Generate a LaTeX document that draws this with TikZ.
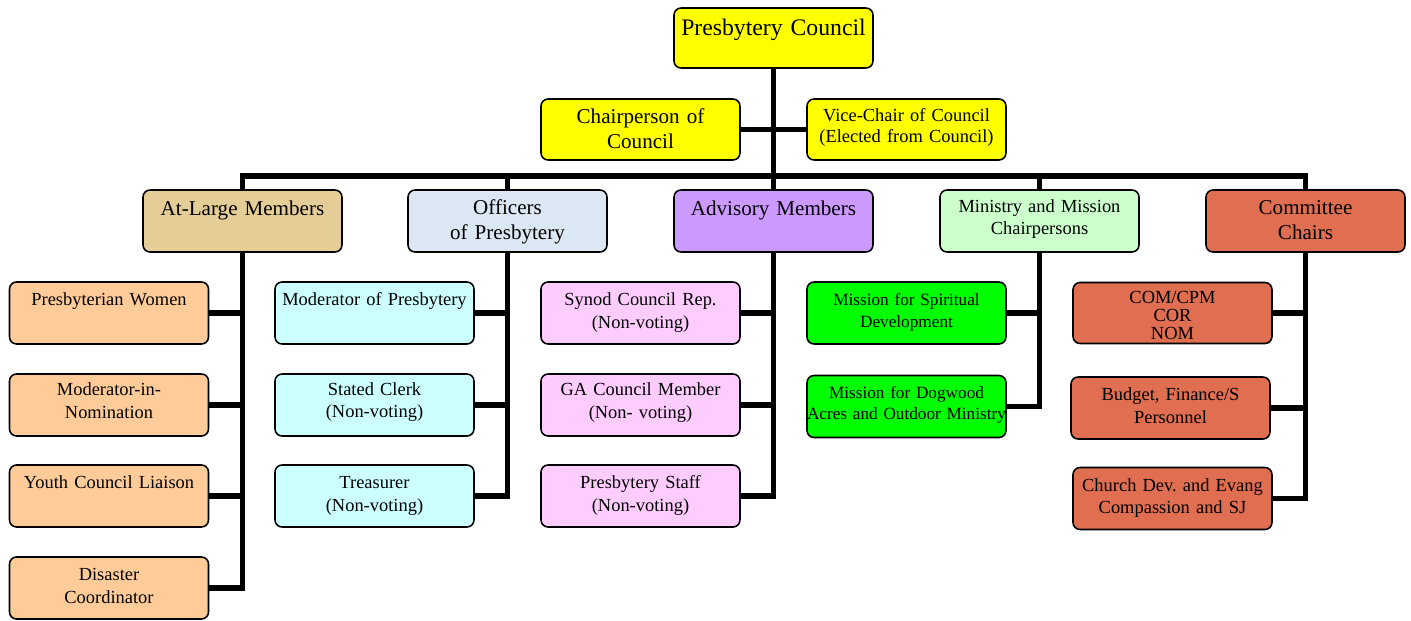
\documentclass[tikz,border=0pt]{standalone}
\usepackage{fontspec}
\setmainfont{Liberation Serif}
\usepackage{tikz}
\usetikzlibrary{positioning}
\frenchspacing
\definecolor{council}{RGB}{255,255,0}
\definecolor{tan}{RGB}{228,205,150}
\definecolor{officer}{RGB}{220,231,244}
\definecolor{advisory}{RGB}{204,153,255}
\definecolor{ministry}{RGB}{204,255,204}
\definecolor{committee}{RGB}{224,110,80}
\definecolor{peach}{RGB}{255,204,153}
\definecolor{aqua}{RGB}{204,255,255}
\definecolor{rose}{RGB}{255,204,255}
\definecolor{lime}{RGB}{0,255,0}

\begin{document}
\begin{tikzpicture}[
			x=0.02cm, y=-0.02cm,
			box/.style={draw, rounded corners=4pt, line width=0.9pt, inner sep=0pt, text width=3.98cm, align=center},
			head/.style={box, font=\fontsize{12}{14}\selectfont, text height=0.50cm, text depth=0.74cm},
			kid/.style={box, font=\fontsize{10.5}{13}\selectfont, text height=0.47cm, text depth=0.77cm},
			link/.style={line width=3.4pt}
		]
		\useasboundingbox (0,0) rectangle (1411,620);

		% Council and its chairs
		\node[box, fill=council, font=\fontsize{13.5}{16}\selectfont, text height=0.55cm, text depth=0.65cm] (pc) at (773.5,38) {Presbytery Council};
		\node[head, fill=council, text height=0.49cm, text depth=0.73cm] (chair) at (640.5,129.5) {Chairperson of\\Council};
		\node[box, fill=council, font=\fontsize{10.5}{12}\selectfont, text height=0.44cm, text depth=0.78cm] (vice) at (906.5,129.5) {Vice-Chair of Council\\(Elected from Council)};

		% Second row
		\node[head, fill=tan] (atl) at (242.5,221) {At-Large Members};
		\node[head, fill=officer, text height=0.49cm, text depth=0.75cm] (off) at (507.5,221) {Officers\\of Presbytery};
		\node[head, fill=advisory] (adv) at (773.5,221) {Advisory Members};
		\node[head, fill=ministry, font=\fontsize{10.5}{12.5}\selectfont, text height=0.45cm, text depth=0.79cm] (min) at (1039.5,221) {Ministry and Mission\\Chairpersons};
		\node[head, fill=committee, text height=0.49cm, text depth=0.75cm] (com) at (1305.5,221) {Committee\\Chairs};

		% At-large members
		\node[kid, fill=peach] (pw) at (109,313) {Presbyterian Women};
		\node[kid, fill=peach, text height=0.43cm, text depth=0.81cm] (mod) at (109,405) {Moderator-in-\\Nomination};
		\node[kid, fill=peach] (youth) at (109,496) {Youth Council Liaison};
		\node[kid, fill=peach] (dis) at (109,588) {Disaster\\Coordinator};

		% Officers
		\node[kid, fill=aqua] (mop) at (374.5,313) {Moderator of Presbytery};
		\node[kid, fill=aqua, text height=0.42cm, text depth=0.82cm] (clerk) at (374.5,405) {Stated Clerk\\(Non-voting)};
		\node[kid, fill=aqua] (treas) at (374.5,496) {Treasurer\\(Non-voting)};

		% Advisory members
		\node[kid, fill=rose] (synod) at (640.5,313) {Synod Council Rep.\\(Non-voting)};
		\node[kid, fill=rose, text height=0.43cm, text depth=0.81cm] (ga) at (640.5,405) {GA Council Member\\(Non- voting)};
		\node[kid, fill=rose] (staff) at (640.5,496) {Presbytery Staff\\(Non-voting)};

		% Ministry and mission
		\node[kid, fill=lime, font=\fontsize{9.8}{12.5}\selectfont] (msd) at (906.5,313) {Mission for Spiritual\\Development};
		\node[kid, fill=lime, font=\fontsize{9.8}{12.5}\selectfont, text height=0.45cm, text depth=0.79cm] (mda) at (906.5,406.5) {Mission for Dogwood\\Acres and Outdoor Ministry};

		% Committees
		\node[kid, fill=committee, font=\fontsize{10.5}{10.5}\selectfont, text height=0.41cm, text depth=0.81cm] (cpm) at (1172.5,313) {COM/CPM\\COR\\NOM};
		\node[kid, fill=committee] (bud) at (1170.5,408) {Budget, Finance/S\\Personnel};
		\node[kid, fill=committee] (cde) at (1172.5,498.5) {Church Dev. and Evang\\Compassion and SJ};

		% Connectors
		\coordinate (bus) at (773.5,176);
		\draw[link] (pc) -- (adv);
		\draw[link] (chair) -- (vice);
		\draw[link] (atl.north) |- (bus) -| (com.north);
		\foreach \n in {off,min} \draw[link] (\n.north) -- (\n.north |- bus);

		\draw[link] (atl.south) |- (dis.east);
		\foreach \n in {pw,mod,youth} \draw[link] (\n.east) -- (\n.east -| atl.south);
		\draw[link] (off.south) |- (treas.east);
		\foreach \n in {mop,clerk} \draw[link] (\n.east) -- (\n.east -| off.south);
		\draw[link] (adv.south) |- (staff.east);
		\foreach \n in {synod,ga} \draw[link] (\n.east) -- (\n.east -| adv.south);
		\draw[link] (min.south) |- (mda.east);
		\draw[link] (msd.east) -- (msd.east -| min.south);
		\draw[link] (com.south) |- (cde.east);
		\foreach \n in {cpm,bud} \draw[link] (\n.east) -- (\n.east -| com.south);

	\end{tikzpicture}
\end{document}
